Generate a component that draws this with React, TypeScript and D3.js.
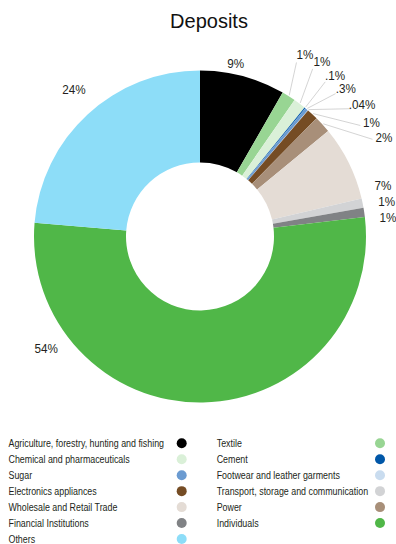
import React from "react";
import * as d3 from "d3";

// ---- data ----
const categories = [
  "Agriculture, forestry, hunting and fishing",
  "Textile",
  "Chemical and pharmaceuticals",
  "Cement",
  "Sugar",
  "Footwear and leather garments",
  "Electronics appliances",
  "Power",
  "Wholesale and Retail Trade",
  "Transport, storage and communication",
  "Financial Institutions",
  "Individuals",
  "Others",
];
const values = [8.3, 1.35, 1.2, 0.1, 0.3, 0.04, 1.1, 1.65, 7.3, 0.9, 0.9, 53.2, 23.7];
const labels = ["9%", "1%", "1%", ".1%", ".3%", ".04%", "1%", "2%", "7%", "1%", "1%", "54%", "24%"];
const colors = [
  "#000000", "#98d593", "#daf0d8", "#0057a8", "#6b9bd1", "#c9dcef",
  "#754c24", "#a88f79", "#e4dcd5", "#d2d3d5", "#808285", "#50b748", "#8dddf8",
];
const legendLeft = [0, 2, 4, 6, 8, 10, 12];
const legendRight = [1, 3, 5, 9, 7, 11];

// ---- layout (label placement, degrees clockwise from 12 o'clock) ----
const labelAngleDeg = [11.6, 30, 34.9, 40, 44.5, 50.8, 56.3, 61.6, 74.4, 79.5, 84.1, 234.1, 319.5];
const labelRadius = [177, 210, 213, 210, 208, 209, 206, 209, 190, 190, 189, 190, 194];
const hasLeader = [false, true, true, true, true, true, true, true, false, false, false, false, false];

const W = 396, H = 544;
const cx = 200, cy = 236.5;
const R = 166, r0 = 74;
const FONT = "'Liberation Sans', Arial, Helvetica, sans-serif";
const TEXT = "#231f20";

export default function App() {
  const pie = d3.pie<number>().sort(null).value((d) => d)(values);
  const arc = d3.arc<d3.PieArcDatum<number>>().innerRadius(r0).outerRadius(R);
  const rad = (deg: number) => (deg * Math.PI) / 180;
  const polar = (deg: number, rr: number): [number, number] => [
    cx + rr * Math.sin(rad(deg)),
    cy - rr * Math.cos(rad(deg)),
  ];

  const rowY = d3.scaleLinear().domain([0, 1]).range([443.3, 459.25]);

  const legendItem = (idx: number, row: number, tx: number, dotX: number) => {
    const y = rowY(row);
    return (
      <g key={"lg" + idx}>
        <text
          transform={`translate(${tx},${y + 3.6}) scale(0.87,1)`}
          fontSize={10.2}
          fill={TEXT}
          fontFamily={FONT}
        >
          {categories[idx]}
        </text>
        <circle cx={dotX} cy={y} r={5} fill={colors[idx]} />
      </g>
    );
  };

  return (
    <svg
      width={W}
      height={H}
      style={{ position: "absolute", left: 0, top: 0, background: "#fff" }}
    >
      <text x={209} y={28} textAnchor="middle" fontSize={20} fill="#111" fontFamily={FONT}>
        Deposits
      </text>
      <g transform={`translate(${cx},${cy})`}>
        {pie.map((p, i) => (
          <path key={i} d={arc(p) || ""} fill={colors[i]} />
        ))}
      </g>
      {pie.map((p, i) => {
        if (!hasLeader[i]) return null;
        const mid = ((p.startAngle + p.endAngle) / 2) * (180 / Math.PI);
        const [x1, y1] = polar(mid, R + 1);
        const [x2, y2] = polar(labelAngleDeg[i] - 1, labelRadius[i] - 11);
        return (
          <line key={"ld" + i} x1={x1} y1={y1} x2={x2} y2={y2} stroke="#c9c9c9" strokeWidth={0.8} />
        );
      })}
      {labels.map((t, i) => {
        const [x, y] = polar(labelAngleDeg[i], labelRadius[i]);
        return (
          <text
            key={"lb" + i}
            transform={`translate(${x},${y + 4.6}) scale(0.9,1)`}
            textAnchor="middle"
            fontSize={13}
            fill={TEXT}
            fontFamily={FONT}
          >
            {t}
          </text>
        );
      })}
      {legendLeft.map((idx, row) => legendItem(idx, row, 8.5, 181.7))}
      {legendRight.map((idx, row) => legendItem(idx, row, 216.7, 380))}
    </svg>
  );
}
